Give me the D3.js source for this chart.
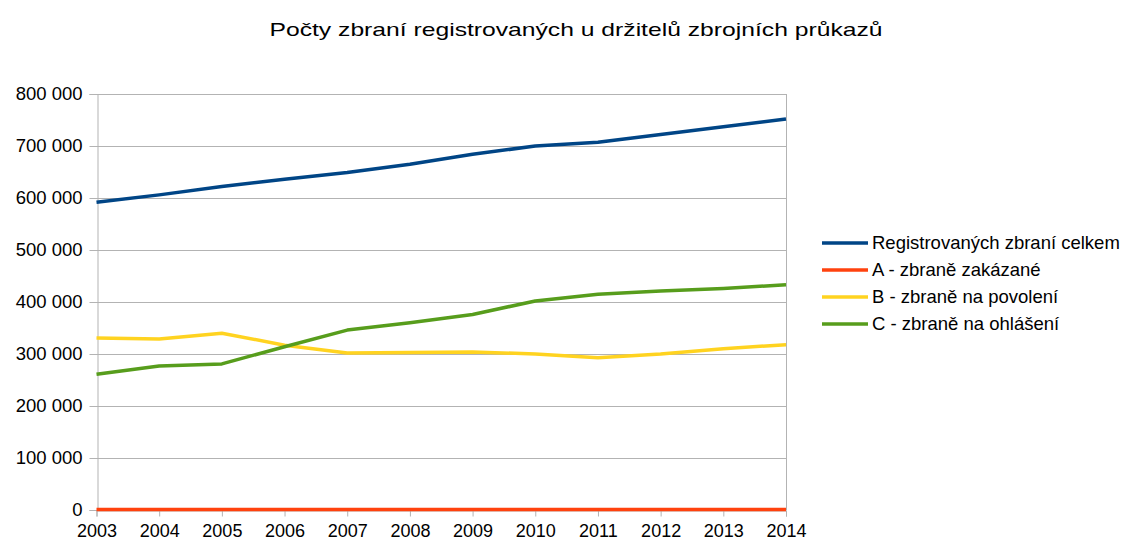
<!DOCTYPE html>
<meta charset="utf-8">
<script src="https://d3js.org/d3.v7.min.js"></script>
<style>
  body { margin: 0; background: #fff; }
  text { font-family: "Liberation Sans", Arial, sans-serif; fill: #000; }
</style>
<div id="chart"></div>
<script>
    // Data
    var years = [2003, 2004, 2005, 2006, 2007, 2008, 2009, 2010, 2011, 2012, 2013, 2014]
    var celkem   = [592000, 606000, 622000, 636000, 649000, 665000, 684000, 700000, 707000, 722000, 737000, 752000]
    var zakazane = [1000, 1000, 1000, 1000, 1000, 1000, 1000, 1000, 1000, 1000, 1000, 1000]
    var povoleni = [331000, 329000, 340000, 317000, 302000, 303000, 304000, 300000, 293000, 300000, 310000, 318000]
    var ohlaseni = [261000, 277000, 281000, 314000, 346000, 360000, 376000, 402000, 415000, 421000, 426000, 433000]
    var yTicks = [0, 100000, 200000, 300000, 400000, 500000, 600000, 700000, 800000]

    var series = [
        {name: "Registrovaných zbraní celkem", values: celkem, color: "#004586"},
        {name: "A - zbraně zakázané", values: zakazane, color: "#ff420e"},
        {name: "B - zbraně na povolení", values: povoleni, color: "#ffd320"},
        {name: "C - zbraně na ohlášení", values: ohlaseni, color: "#579d1c"}
    ]

    var width = 1133, height = 542
    var plot = {left: 96.5, right: 786, top: 94, bottom: 510}

    var svg = d3.select("#chart")
        .append("svg")
        .attr("width", width)
        .attr("height", height)

    // Title
    svg.append("text")
        .attr("x", 576)
        .attr("y", 36)
        .attr("text-anchor", "middle")
        .style("font-size", "19px")
        .attr("textLength", 613)
        .attr("lengthAdjust", "spacingAndGlyphs")
        .text("Počty zbraní registrovaných u držitelů zbrojních průkazů")

    // Scales
    var x = d3.scaleLinear()
        .domain([2003, 2014])
        .range([plot.left, plot.right])

    var y = d3.scaleLinear()
        .domain([0, 800000])
        .range([plot.bottom, plot.top])

    var fmt = function(d) { return d3.format(",")(d).replace(/,/g, " ") }

    // Horizontal grid
    svg.append("g")
        .selectAll("line")
        .data(yTicks)
        .enter()
        .append("line")
        .attr("x1", plot.left)
        .attr("x2", plot.right)
        .attr("y1", function(d){ return Math.round(y(d)) + 0.5 })
        .attr("y2", function(d){ return Math.round(y(d)) + 0.5 })
        .attr("stroke", "#b3b3b3")

    // Y axis
    var yAxis = svg.append("g")
        .attr("transform", "translate(" + (Math.round(plot.left) + 0.5) + ",0)")
        .call(d3.axisLeft(y).tickValues(yTicks).tickFormat(fmt).tickSize(8).tickPadding(7))
    yAxis.select(".domain").attr("stroke", "#b3b3b3")
    yAxis.selectAll(".tick line").attr("stroke", "#b3b3b3")
    yAxis.selectAll(".tick text")
        .style("font-size", "18.5px")
        .style("font-family", "Liberation Sans, Arial, sans-serif")
        .attr("dy", "0.3em")
        .attr("fill", "#000")

    // X axis
    var xAxis = svg.append("g")
        .attr("transform", "translate(0," + (plot.bottom + 0.5) + ")")
        .call(d3.axisBottom(x).tickValues(years).tickFormat(d3.format("d")).tickSize(6).tickPadding(8))
    xAxis.select(".domain").attr("stroke", "#b3b3b3")
    xAxis.selectAll(".tick line").attr("stroke", "#b3b3b3")
    xAxis.selectAll(".tick text")
        .style("font-size", "18px")
        .style("font-family", "Liberation Sans, Arial, sans-serif")
        .attr("fill", "#000")

    // Right frame line
    svg.append("line")
        .attr("x1", plot.right + 0.5).attr("x2", plot.right + 0.5)
        .attr("y1", plot.top).attr("y2", plot.bottom)
        .attr("stroke", "#b3b3b3")

    // Lines
    var line = d3.line()
        .x(function(d, i){ return x(years[i]) })
        .y(function(d){ return y(d) })

    svg.append("g")
        .selectAll("path")
        .data(series)
        .enter()
        .append("path")
        .attr("d", function(s){ return line(s.values) })
        .attr("fill", "none")
        .attr("stroke", function(s){ return s.color })
        .attr("stroke-width", 3.5)
        .attr("stroke-linejoin", "round")

    // Legend
    var legend = svg.append("g")
        .selectAll("g")
        .data(series)
        .enter()
        .append("g")
        .attr("transform", function(s, i){ return "translate(822," + (243 + i * 27) + ")" })

    legend.append("line")
        .attr("x1", 0).attr("x2", 46)
        .attr("stroke", function(s){ return s.color })
        .attr("stroke-width", 3.5)
    legend.append("text")
        .attr("x", 50)
        .attr("y", 6)
        .style("font-size", "18.5px")
        .text(function(s){ return s.name })
</script>
